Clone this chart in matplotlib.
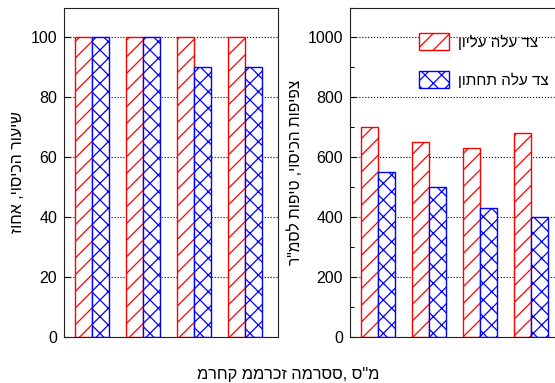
import matplotlib
matplotlib.use("Agg")
import matplotlib.pyplot as plt
from matplotlib.ticker import MultipleLocator
import numpy as np

plt.rcParams['font.family'] = ['Liberation Sans', 'DejaVu Sans']
plt.rcParams['hatch.linewidth'] = 0.9

# four spray distances (no x tick labels on the chart)
groups = [1, 2, 3, 4]
# coverage percentage
cover_top = [100, 100, 100, 100]
cover_bottom = [100, 100, 90, 90]
# drops per cm^2
density_top = [700, 650, 630, 680]
density_bottom = [550, 500, 430, 400]

lbl_top = "צד עלה עליון"
lbl_bottom = "צד עלה תחתון"
ylab_left = "שיעור הכיסוי, אחוז"
ylab_right = "צפיפות הכיסוי, טיפות לסמ\"ר"
xlab = "מרחק ממרכז המרסס, ס\"מ"


def rtl(s):
    # matplotlib lays glyphs left to right, so flip Hebrew strings
    return s[::-1]


W, H = 555, 383
fig = plt.figure(figsize=(W / 100, H / 100), dpi=100)
ax1 = fig.add_axes([64 / W, 1 - 337 / H, 214.3 / W, 329.5 / H])
ax2 = fig.add_axes([350 / W, 1 - 337 / H, 214.3 / W, 329.5 / H])

x = np.arange(len(groups))
w = 0.335
red = '#ff0000'
blue = '#0000ff'


def draw(ax, top, bottom, ymax, major, minor=None):
    ax.bar(x - w / 2, top, w, color='white', edgecolor=red, hatch='//',
           linewidth=1.0, label=rtl(lbl_top))
    ax.bar(x + w / 2, bottom, w, color='white', edgecolor=blue, hatch='xx',
           linewidth=1.0, label=rtl(lbl_bottom))
    ax.set_xlim(-0.557, 3.661)
    ax.set_ylim(0, ymax)
    ax.set_xticks([])
    ax.yaxis.set_major_locator(MultipleLocator(major))
    if minor:
        ax.yaxis.set_minor_locator(MultipleLocator(minor))
    ax.tick_params(axis='y', which='major', direction='in', length=4,
                   width=0.8, labelsize=11.5, pad=5)
    ax.tick_params(axis='y', which='minor', direction='in', length=3, width=0.8)
    ax.grid(axis='y', which='major', linestyle=':', color='black', linewidth=0.8)
    ax.set_axisbelow(True)
    for s in ax.spines.values():
        s.set_linewidth(0.8)
        s.set_color('#202020')


draw(ax1, cover_top, cover_bottom, 110, 20)
draw(ax2, density_top, density_bottom, 1100, 200, 100)

ax1.set_ylabel(rtl(ylab_left), fontsize=11.5, labelpad=4)
ax2.set_ylabel(rtl(ylab_right), fontsize=11.2, labelpad=3)

ax2.legend(loc='upper left', bbox_to_anchor=(419 / W, 1 - 33 / H),
           bbox_transform=fig.transFigure, frameon=False, fontsize=11,
           handlelength=1.94, handleheight=1.33, handletextpad=0.6,
           labelspacing=1.4, borderpad=0, borderaxespad=0)

# the distance caption is set in plain logical order
fig.text(288 / W, 1 - 374 / H, xlab, ha='center', va='center', fontsize=11.8)

fig.savefig('out.png', dpi=100)
